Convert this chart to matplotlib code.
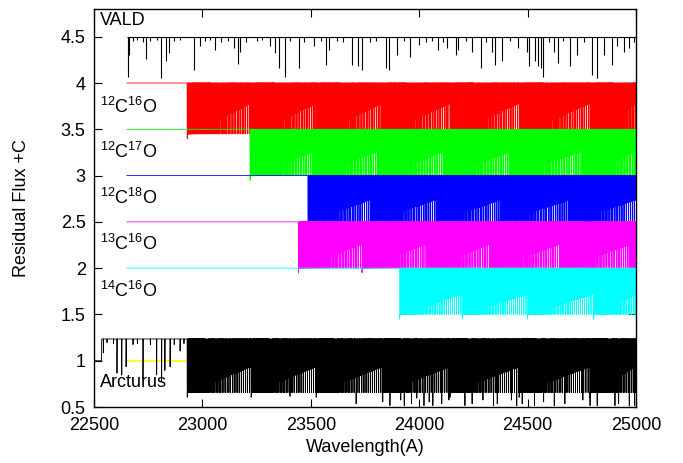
import numpy as np
import matplotlib
matplotlib.use('Agg')
import matplotlib.pyplot as plt
from matplotlib.ticker import MultipleLocator, FormatStrFormatter

plt.rcParams['font.family'] = 'Liberation Sans'
plt.rcParams['mathtext.fontset'] = 'custom'
plt.rcParams['mathtext.rm'] = 'Liberation Sans'
plt.rcParams['mathtext.it'] = 'Liberation Sans:italic'

# wavelength range covered by the synthetic spectra (A)
spec_start = 22652
spec_end = 25000

# VALD atomic line list: wavelength (A) and depth below the continuum
vald_wl = [22655, 22663, 22680, 22700, 22725, 22742, 22760, 22790, 22811, 22831,
           22844, 22870, 22895, 22963, 22987, 23010, 23035, 23058, 23085, 23120,
           23144, 23165, 23173, 23200, 23250, 23275, 23313, 23333, 23355, 23381,
           23405, 23445, 23470, 23516, 23545, 23569, 23582, 23620, 23650, 23692,
           23717, 23738, 23775, 23800, 23846, 23860, 23898, 23930, 23956, 24000,
           24030, 24060, 24088, 24110, 24129, 24170, 24178, 24215, 24244, 24285,
           24310, 24335, 24351, 24384, 24420, 24458, 24495, 24508, 24533, 24549,
           24561, 24570, 24600, 24623, 24640, 24665, 24697, 24730, 24760, 24796,
           24821, 24854, 24887, 24911, 24944, 24969, 24990]
vald_depth = [0.43, 0.20, 0.05, 0.04, 0.06, 0.24, 0.05, 0.04, 0.45, 0.26,
              0.18, 0.05, 0.04, 0.36, 0.10, 0.05, 0.04, 0.14, 0.06, 0.05,
              0.12, 0.29, 0.16, 0.06, 0.05, 0.04, 0.10, 0.18, 0.34, 0.43,
              0.05, 0.34, 0.06, 0.10, 0.05, 0.30, 0.14, 0.05, 0.06, 0.30,
              0.32, 0.36, 0.06, 0.05, 0.34, 0.36, 0.20, 0.05, 0.22, 0.09,
              0.06, 0.05, 0.14, 0.06, 0.12, 0.20, 0.14, 0.05, 0.16, 0.34,
              0.06, 0.16, 0.30, 0.26, 0.05, 0.12, 0.16, 0.32, 0.26, 0.32,
              0.34, 0.43, 0.06, 0.16, 0.28, 0.05, 0.32, 0.20, 0.06, 0.41,
              0.45, 0.20, 0.30, 0.10, 0.16, 0.12, 0.06]
vald_level = 4.5

# CO isotopologue syntheses
iso_labels = [r'$^{12}$C$^{16}$O', r'$^{12}$C$^{17}$O', r'$^{12}$C$^{18}$O',
              r'$^{13}$C$^{16}$O', r'$^{14}$C$^{16}$O']
iso_colors = ['#ff0000', '#00ff00', '#0000ff', '#ff00ff', '#00ffff']
iso_level = [4.0, 3.5, 3.0, 2.5, 2.0]
iso_label_y = [3.74, 3.26, 2.76, 2.26, 1.75]
iso_heads = [
    [22930, 23225, 23525, 23830, 24142, 24461, 24787],
    [23220, 23512, 23808, 24112, 24425, 24745],
    [23487, 23775, 24077, 24376, 24696],
    [23443, 23736, 24030, 24327, 24648, 24978],
    [23910, 24200, 24500, 24805],
]
iso_depth = [0.55, 0.50, 0.50, 0.50, 0.50]   # depth near a band head
iso_tail = [0.22, 0.24, 0.26, 0.24, 0.28]    # envelope depth at band end
iso_spacing = [0.06, 0.06, 0.07, 0.06, 0.09]  # growth of line spacing

# Arcturus atlas
arc_level = 1.235
arc_start_level = 1.0
arc_jump = 22535
arc_atomic_wl = [22543, 22560, 22590, 22606, 22628, 22648, 22680, 22700, 22726,
                 22760, 22789, 22812, 22827, 22851, 22870, 22897, 22915]
arc_atomic_depth = [0.15, 0.04, 0.05, 0.37, 0.39, 0.30, 0.06, 0.05, 0.43,
                    0.06, 0.39, 0.45, 0.34, 0.30, 0.06, 0.13, 0.05]
arc_deep_wl = [23404, 23709, 23832, 23865, 23915, 23931, 23964, 23989, 24022,
               24046, 24063, 24104, 24137, 24211, 24244, 24294, 24343, 24360,
               24425, 24450, 24475, 24532, 24574, 24623, 24672, 24755, 24788,
               24821, 24903, 24920, 24969, 24994]
arc_deep_depth = [0.62, 0.70, 0.68, 0.72, 0.66, 0.72, 0.70, 0.64, 0.72,
                  0.68, 0.72, 0.70, 0.66, 0.72, 0.70, 0.66, 0.72, 0.70,
                  0.66, 0.72, 0.70, 0.72, 0.68, 0.72, 0.70, 0.66, 0.72,
                  0.72, 0.72, 0.70, 0.72, 0.72]
arc_co_depth = 0.58
arc_co_tail = 0.30
yellow_level = 1.0

grid = np.arange(spec_start, spec_end + 0.25, 0.5)


def co_depth(wl, heads, dmax, dtail, a):
    depth = np.zeros_like(wl)
    bounds = list(heads) + [spec_end]
    for h, e in zip(bounds[:-1], bounds[1:]):
        sel = np.where((wl >= h) & (wl < e))[0]
        env = dmax - (dmax - dtail) * (wl[sel] - h) / (e - h)
        zig = np.zeros(len(sel))
        zig[::2] = env[::2]
        depth[sel] = np.maximum(depth[sel], zig)
        n = np.arange(0, int(np.sqrt((e - h) / a)) + 1)
        lines = h + a * n ** 2
        # narrow windows back to the continuum between the wider spaced lines
        for m, g in zip(0.5 * (lines[1:] + lines[:-1]), np.diff(lines)):
            if g > 5:
                depth[(wl > m - 1.3) & (wl < m + 1.3)] = 0.0
        idx = np.searchsorted(wl, lines)
        idx = idx[idx < len(wl)]
        depth[idx] = np.maximum(depth[idx], dmax)
        depth[np.searchsorted(wl, h)] = dmax + 0.05
    return depth


fig = plt.figure(figsize=(6.83, 4.63), dpi=100)
ax = fig.add_axes([94 / 683, 56 / 463, 542 / 683, 398 / 463])

# VALD
ax.hlines(vald_level, spec_start, spec_end, color='black', lw=0.8)
ax.vlines(vald_wl, vald_level - np.array(vald_depth), vald_level,
          color='black', lw=0.8)

# isotopologues
for heads, col, lev, dm, dt, a in zip(iso_heads, iso_colors, iso_level,
                                       iso_depth, iso_tail, iso_spacing):
    flux = lev - co_depth(grid, heads, dm, dt, a)
    ax.plot(grid, flux, color=col, lw=0.6)

# Arcturus
arc_grid = np.arange(22500, spec_end + 0.25, 0.5)
arc = np.where(arc_grid < arc_jump, arc_start_level, arc_level)
arc -= co_depth(arc_grid, iso_heads[0], arc_co_depth, arc_co_tail, 0.08)
for w, d in zip(arc_atomic_wl + arc_deep_wl, arc_atomic_depth + arc_deep_depth):
    i = np.searchsorted(arc_grid, w)
    arc[i] = min(arc[i], arc_level - d)
ax.hlines(yellow_level, spec_start, spec_end, color='#ffff00', lw=1.2, zorder=1)
ax.plot(arc_grid, arc, color='black', lw=0.6, zorder=2)

# labels
ax.text(22528, 4.68, 'VALD', fontsize=13, va='center')
for lab, y in zip(iso_labels, iso_label_y):
    ax.text(22528, y, lab, fontsize=13, va='center')
ax.text(22528, 0.76, 'Arcturus', fontsize=13, va='center')

ax.set_xlim(22500, 25000)
ax.set_ylim(0.5, 4.8)
ax.xaxis.set_major_locator(MultipleLocator(500))
ax.yaxis.set_major_locator(MultipleLocator(0.5))
ax.yaxis.set_major_formatter(FormatStrFormatter('%g'))
ax.tick_params(direction='in', length=6, width=0.8, top=True, right=True,
               labelsize=13)
ax.tick_params(axis='x', pad=7)
ax.tick_params(axis='y', pad=6)
for s in ax.spines.values():
    s.set_linewidth(1.0)
ax.set_xlabel('Wavelength(A)', fontsize=13, labelpad=4)
ax.set_ylabel('Residual Flux +C', fontsize=13, labelpad=22)

fig.savefig('out.png', dpi=100)
